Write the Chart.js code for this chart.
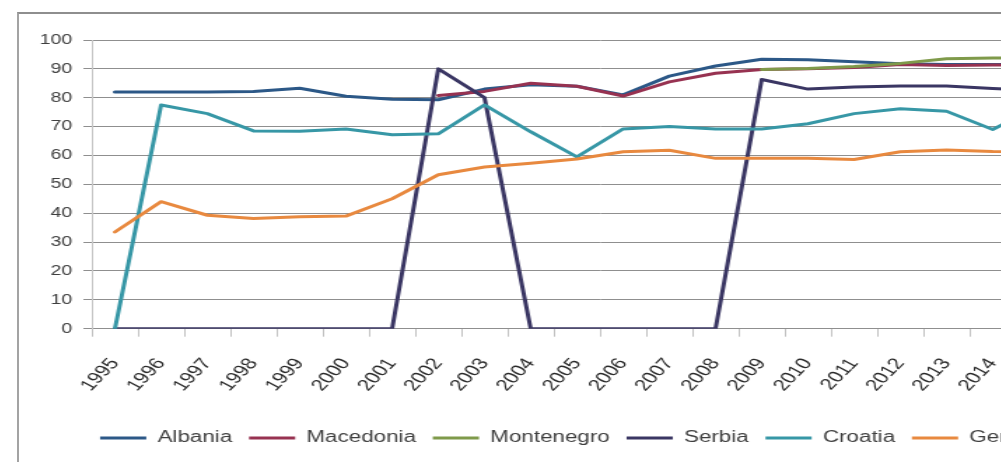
<!DOCTYPE html>
<html>
<head>
<meta charset="utf-8">
<title>Series 1995–2016</title>
<script src="https://cdn.jsdelivr.net/npm/chart.js@4.4.0/dist/chart.umd.min.js"></script>
<style>
  html, body { margin: 0; padding: 0; background: #fff; overflow: hidden; width: 1001px; height: 462px; }
  #frame {
    position: absolute; left: 17px; top: 12px; width: 1200px; height: 470px;
    border-top: 2px solid #8e8e8e; border-left: 2px solid #a3a3a3; background: #fff;
  }
  /* the chart is drawn narrow and widened horizontally */
  #stretch { position: absolute; left: 0; top: 0; width: 827px; height: 460px; transform: scaleX(1.4); transform-origin: 0 0; }
</style>
</head>
<body>
<div id="frame"><div id="stretch"><canvas id="c" width="827" height="460"></canvas></div></div>
<script>
const years = ['1995','1996','1997','1998','1999','2000','2001','2002','2003','2004','2005',
               '2006','2007','2008','2009','2010','2011','2012','2013','2014','2015','2016'];

const albania    = [82, 82, 82, 82.2, 83.3, 80.5, 79.5, 79.3, 83, 84.5, 84, 81, 87.5, 91, 93.3, 93.2, 92.5, 91.8, 91.5, 91.5, 91.5, 91.5];
const macedonia  = [null, null, null, null, null, null, null, 80.8, 82.2, 85, 84, 80.6, 85.5, 88.5, 89.8, 90, 90.5, 91.5, 91.2, 91.3, 91.3, 91];
const montenegro = [null, null, null, null, null, null, null, null, null, null, null, null, null, null, 89.8, 90.1, 90.8, 91.9, 93.5, 93.8, 93.8, 93.5];
const serbia     = [0, 0, 0, 0, 0, 0, 0, 90, 80, 0, 0, 0, 0, 0, 86.3, 83, 83.7, 84.1, 84.1, 83.2, 82.5, 82.5];
const croatia    = [0, 77.5, 74.5, 68.5, 68.4, 69.2, 67.2, 67.5, 77.5, 68.2, 59.5, 69.2, 70, 69.2, 69.2, 71, 74.5, 76.2, 75.3, 69, 77, 76];
const germany    = [33.5, 44, 39.3, 38.2, 38.8, 39, 45, 53.3, 56, 57.3, 58.8, 61.3, 61.8, 59, 59, 59, 58.6, 61.3, 61.9, 61.4, 61.3, 61];

const yTicks = [0, 10, 20, 30, 40, 50, 60, 70, 80, 90, 100];

const FONT = '"Liberation Sans", Arial, sans-serif';

function series(label, data, color, order) {
  return {
    label, data, order,
    borderColor: color, backgroundColor: color,
    borderWidth: 3, pointRadius: 0, pointHoverRadius: 0,
    tension: 0, fill: false, spanGaps: false,
    borderJoinStyle: 'round', borderCapStyle: 'round'
  };
}

new Chart(document.getElementById('c'), {
  type: 'line',
  data: {
    labels: years,
    datasets: [
      series('Albania',    albania,    '#2c5887', 5),
      series('Macedonia',  macedonia,  '#973251', 4),
      series('Montenegro', montenegro, '#7f9a4a', 3),
      series('Serbia',     serbia,     '#3a3663', 2),
      series('Croatia',    croatia,    '#3797a6', 1),
      series('Germany',    germany,    '#e8893f', 0)
    ]
  },
  options: {
    responsive: false,
    animation: false,
    events: [],
    layout: { padding: { top: 26, right: 24.5, bottom: 18, left: 0 } },
    plugins: {
      tooltip: { enabled: false },
      title: { display: false },
      legend: {
        position: 'bottom',
        labels: {
          usePointStyle: true,
          pointStyle: 'line',
          pointStyleWidth: 33,
          padding: 12,
          color: '#3f3f3f',
          font: { family: FONT, size: 16 },
          sort: (a, b) => a.datasetIndex - b.datasetIndex
        }
      }
    },
    scales: {
      x: {
        type: 'category',
        offset: true,
        grid: { offset: true, drawOnChartArea: false, drawTicks: true, tickLength: 8, color: '#c2c2c2' },
        border: { display: true, color: '#8f8f8f' },
        ticks: {
          autoSkip: false, minRotation: 54, maxRotation: 54, padding: 18,
          color: '#2b2b2b', font: { family: FONT, size: 16 }
        },
        afterFit: s => { s.height = 89.3; }
      },
      y: {
        min: 0, max: 100,
        afterBuildTicks: s => { s.ticks = yTicks.map(v => ({ value: v })); },
        grid: { color: '#8f8f8f', lineWidth: 1, drawTicks: true, tickLength: 6 },
        border: { display: true, color: '#c6c6c6' },
        ticks: { padding: 8, color: '#3f3f3f', font: { family: FONT, size: 14 } },
        afterFit: s => { s.width = 52; }
      },
      // empty right-hand margin of the plot area
      yRight: {
        position: 'right',
        min: 0, max: 100,
        grid: { display: false, drawOnChartArea: false },
        border: { display: false },
        ticks: { display: false },
        afterFit: s => { s.width = 24.5; }
      }
    }
  }
});
</script>
</body>
</html>
